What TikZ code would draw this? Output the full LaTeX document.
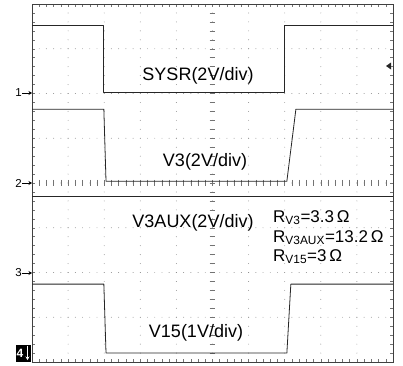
\documentclass[tikz,border=0pt]{standalone}
\usepackage{fontspec}
\setmainfont{Liberation Sans}
\usetikzlibrary{arrows.meta}
\begin{document}
\begin{tikzpicture}[x=1pt,y=-1pt]
\tikzstyle{every node}=[inner sep=0pt]
\tikzstyle{trace}=[draw=black!85, line width=0.8pt, line join=round]
\tikzstyle{gridtick}=[draw=black!55, line width=0.5pt]
\tikzstyle{caption}=[font=\fontsize{18}{20}\selectfont, anchor=base]
\tikzstyle{rlabel}=[font=\fontsize{17}{20}\selectfont, anchor=base west]
\tikzstyle{marker}=[font=\fontsize{11.5}{12}\selectfont, anchor=east]
\tikzstyle{markarrow}=[line width=0.7pt, -{Stealth[length=3.5pt,width=4pt]}]

\useasboundingbox (0,0) rectangle (403,365);
\fill[white] (0,0) rectangle (403,365);

\begin{scope}[shift={(32,4)}, x=36.1pt, y=-44.75pt]
% dotted graticule
\foreach \i in {1,...,9}
  \foreach \j in {1,...,39}
    \fill[black!45] (\i,\j/5) circle (0.45pt);
\foreach \j in {1,...,7}
  \foreach \i in {1,...,49}
    \fill[black!45] (\i/5,\j) circle (0.45pt);

% minor ticks on frame and centre lines
\foreach \k in {1,...,49} {
  \draw[gridtick] (\k/5,0) -- ++(0,0.06);
  \draw[gridtick] (\k/5,8) -- ++(0,-0.06);
  \draw[gridtick] (\k/5,3.93) -- (\k/5,4.07);
}
\foreach \k in {1,...,39} {
  \draw[gridtick] (0,\k/5) -- ++(0.08,0);
  \draw[gridtick] (10,\k/5) -- ++(-0.08,0);
  \draw[gridtick] (4.92,\k/5) -- (5.08,\k/5);
}
\draw[black!75, line width=0.8pt] (0,0) rectangle (10,8);

% traces
\draw[trace] (0,0.47) -- (1.99,0.47) -- (1.99,1.97) -- (6.98,1.97) -- (6.98,0.47) -- (10,0.47);
\draw[trace] (0,2.35) -- (1.99,2.35) -- (2.05,3.96) -- (7.06,3.96) -- (7.31,2.35) -- (10,2.35);
\draw[trace] (0,4.29) -- (10,4.29);
\draw[trace] (0,6.26) -- (1.99,6.26) -- (2.05,7.80) -- (7.06,7.80) -- (7.17,6.26) -- (10,6.26);
\end{scope}

% channel markers
\node[marker] (m1) at (22,93) {1};
\node[marker] (m2) at (22,183) {2};
\node[marker] (m3) at (22,273) {3};
\coordinate (e1) at (32,93);
\coordinate (e2) at (32,183);
\coordinate (e3) at (32,273);
\draw[markarrow] (m1.east) -- (e1);
\draw[markarrow] (m2.east) -- (e2);
\draw[markarrow] (m3.east) -- (e3);

\node[fill=black, minimum width=15pt, minimum height=17pt] (m4) at (23.5,353) {};
\node[text=white, font=\bfseries\fontsize{12}{12}\selectfont] (n4) at (20,353) {4};
\draw[markarrow, white] (27.5,345.5) -- (27.5,360);
\fill[black!85] (386,66) -- (391,62.5) -- (391,69.5) -- cycle;

% captions
\node[caption] (sysr) at (198,80) {SYSR(2V/div)};
\node[caption] (vthree) at (205,166) {V3(2V/div)};
\node[caption] (vaux) at (193,227) {V3AUX(2V/div)};
\node[caption] (vfifteen) at (196,337) {V15(1V/div)};

\node[rlabel] (rthree) at (273,222) {R\textsubscript{V3}=3.3\,Ω};
\node[rlabel] (raux) at (273,242) {R\textsubscript{V3AUX}=13.2\,Ω};
\node[rlabel] (rfifteen) at (273,261) {R\textsubscript{V15}=3\,Ω};
\end{tikzpicture}
\end{document}
